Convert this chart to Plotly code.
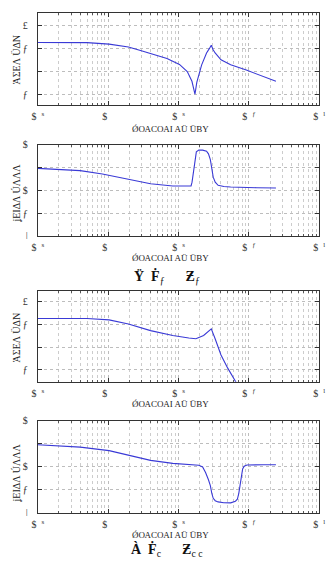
import plotly.graph_objects as go

W, H = 333, 563

# ---------------- data ----------------
mag1_freq = [1, 5, 10.3, 19.4, 28, 40, 68.5, 103, 133, 155, 166, 171, 176, 182, 213, 250, 275, 292, 310, 331, 401, 550, 940, 1604, 2420]
mag1_db = [12.9, 12.6, 9.3, 3, -4, -11, -22, -35, -50.7, -72, -88, -100, -88, -74, -36, -10, 0, 7, -3, -10, -25, -36, -48, -61, -72]

ph1_freq = [1, 4, 8.28, 19.4, 40, 82.8, 141.5, 150.6, 155.5, 163, 171, 179, 194, 220, 250, 266, 283, 297, 311, 332, 365, 440, 550, 1288, 2420]
ph1_deg = [87.3, 78.4, 65.3, 46, 26.6, 17.8, 17, 18, 33, 72, 130, 153, 159.5, 159.5, 155.7, 145, 122, 87, 52.5, 33, 20.5, 16, 14, 11, 10]

mag2_freq = [1, 5, 10.3, 19.4, 40, 82.8, 140, 176.5, 227, 292, 331, 401, 500, 623, 802]
mag2_db = [12.9, 12.7, 9.9, 0.6, -13.7, -24.5, -30, -31.5, -24.5, -10, -31.5, -67, -96, -124.5, -150]

ph2_freq = [1, 4, 10.3, 19.4, 40, 82.8, 194, 220, 242, 266, 283, 297, 311, 332, 365, 440, 550, 643, 685, 718, 753, 777, 814, 855, 940, 1604, 2420]
ph2_deg = [86.9, 77.7, 64, 44.8, 25.7, 14.2, 6.5, 0, -21.8, -50, -72.8, -103, -122.6, -132, -136.7, -139.8, -140.6, -134, -126.4, -103, -65, -30.6, -7.7, 2.7, 7.6, 8.8, 8.8]

x_tickvals = [1, 10, 100, 1000, 10000]
x_ticktext = ["$  <sup>s</sup>", "$  <sup> </sup>", "$  <sup>s</sup>", "$  <sup>ƒ</sup>", "$  <sup>l</sup>"]
mag_tickvals = [50, 0, -50, -100]
mag_ticktext = ["£", "ƒ", "", "ƒ"]
ph_tickvals = [180, 90, 0, -90, -180]
ph_ticktext = ["$", "", "$", "ƒ", "ǀ"]

xlabel_text = "ǾΟΑϹΟΑΙ ΑÜ ÜΒΥ"
ylabel_mag = "ΆΣΕΛ ÜΔΝ"
ylabel_ph = "ʝΕΙΔΛ ÚΛΛΛ"
title3 = "<b>Ÿ  Ḟ</b><sub>ƒ</sub>      <b>Ƶ</b><sub>ƒ</sub>"
title5 = "<b>À  Ḟ</b><sub>c</sub>      <b>Ƶ</b><sub>c c</sub>"

# ---------------- layout helpers ----------------
def py(p):
    return 1 - p / H

def px(p):
    return p / W

panels = [
    (7, 101, mag1_freq, mag1_db, [-123.6, 77.9], mag_tickvals, mag_ticktext),
    (142, 235, ph1_freq, ph1_deg, [-180, 180], ph_tickvals, ph_ticktext),
    (291, 384, mag2_freq, mag2_db, [-126, 73.6], mag_tickvals, mag_ticktext),
    (424, 518, ph2_freq, ph2_deg, [-180, 180], ph_tickvals, ph_ticktext),
]

fig = go.Figure()
minor_vals = [m * 10 ** k for k in range(0, 4) for m in range(2, 10)]
tickfont = dict(family="Liberation Serif", size=10, color="#333333")
line_color = "#3a3ad6"

for i, (top, bot, fx, fy, yr, tv, tt) in enumerate(panels):
    n = i + 1
    xa = "x" if n == 1 else f"x{n}"
    ya = "y" if n == 1 else f"y{n}"
    fig.add_trace(go.Scatter(x=fx, y=fy, mode="lines", xaxis=xa, yaxis=ya,
                             line=dict(color=line_color, width=1.1),
                             showlegend=False, hoverinfo="skip", cliponaxis=True))
    xkey = "xaxis" if n == 1 else f"xaxis{n}"
    ykey = "yaxis" if n == 1 else f"yaxis{n}"
    fig.layout[xkey] = dict(
        type="log", range=[0, 4], domain=[px(33), px(325)], anchor=ya,
        tickvals=x_tickvals, ticktext=x_ticktext, tickfont=tickfont,
        ticks="inside", ticklen=4, tickcolor="#333333",
        showline=True, mirror="ticks", linecolor="#333333", linewidth=1.3,
        showgrid=True, gridcolor="#bdbdbd", griddash="dot", gridwidth=1,
        minor=dict(tickvals=minor_vals, showgrid=True, gridcolor="#cccccc",
                   griddash="dot", gridwidth=1, ticks="inside", ticklen=2,
                   tickcolor="#555555"),
        zeroline=False, fixedrange=True, ticklabelstandoff=2,
    )
    fig.layout[ykey] = dict(
        range=yr, domain=[py(bot), py(top)], anchor=xa,
        tickvals=tv, ticktext=tt, tickfont=tickfont,
        ticks="inside", ticklen=4, tickcolor="#333333",
        showline=True, mirror="ticks", linecolor="#333333", linewidth=1.3,
        showgrid=True, gridcolor="#bdbdbd", griddash="dot", gridwidth=1,
        zeroline=False, fixedrange=True, ticklabelstandoff=7,
    )

annos = []
label_font = dict(family="Liberation Sans Narrow", size=9, color="#222222")
for ycen in [126, 257, 407, 541]:
    annos.append(dict(text=xlabel_text, x=px(171), y=py(ycen), xref="paper", yref="paper",
                      showarrow=False, xanchor="center", yanchor="middle", font=label_font))
for ycen, txt in [(55, ylabel_mag), (191, ylabel_ph), (339, ylabel_mag), (477, ylabel_ph)]:
    annos.append(dict(text=txt, x=px(11), y=py(ycen), xref="paper", yref="paper",
                      showarrow=False, xanchor="center", yanchor="middle", textangle=-90,
                      font=dict(family="Liberation Sans Narrow", size=10, color="#222222")))
title_font = dict(family="Liberation Serif", size=14, color="#111111")
annos.append(dict(text=title3, x=px(167), y=py(277), xref="paper", yref="paper",
                  showarrow=False, xanchor="center", yanchor="middle", font=title_font))
annos.append(dict(text=title5, x=px(167), y=py(556), xref="paper", yref="paper",
                  showarrow=False, xanchor="center", yanchor="middle", font=title_font))

fig.update_layout(
    width=W, height=H, margin=dict(l=0, r=0, t=0, b=0),
    paper_bgcolor="white", plot_bgcolor="white",
    annotations=annos, showlegend=False,
)

fig.write_html("out.html", config={"displayModeBar": False})
